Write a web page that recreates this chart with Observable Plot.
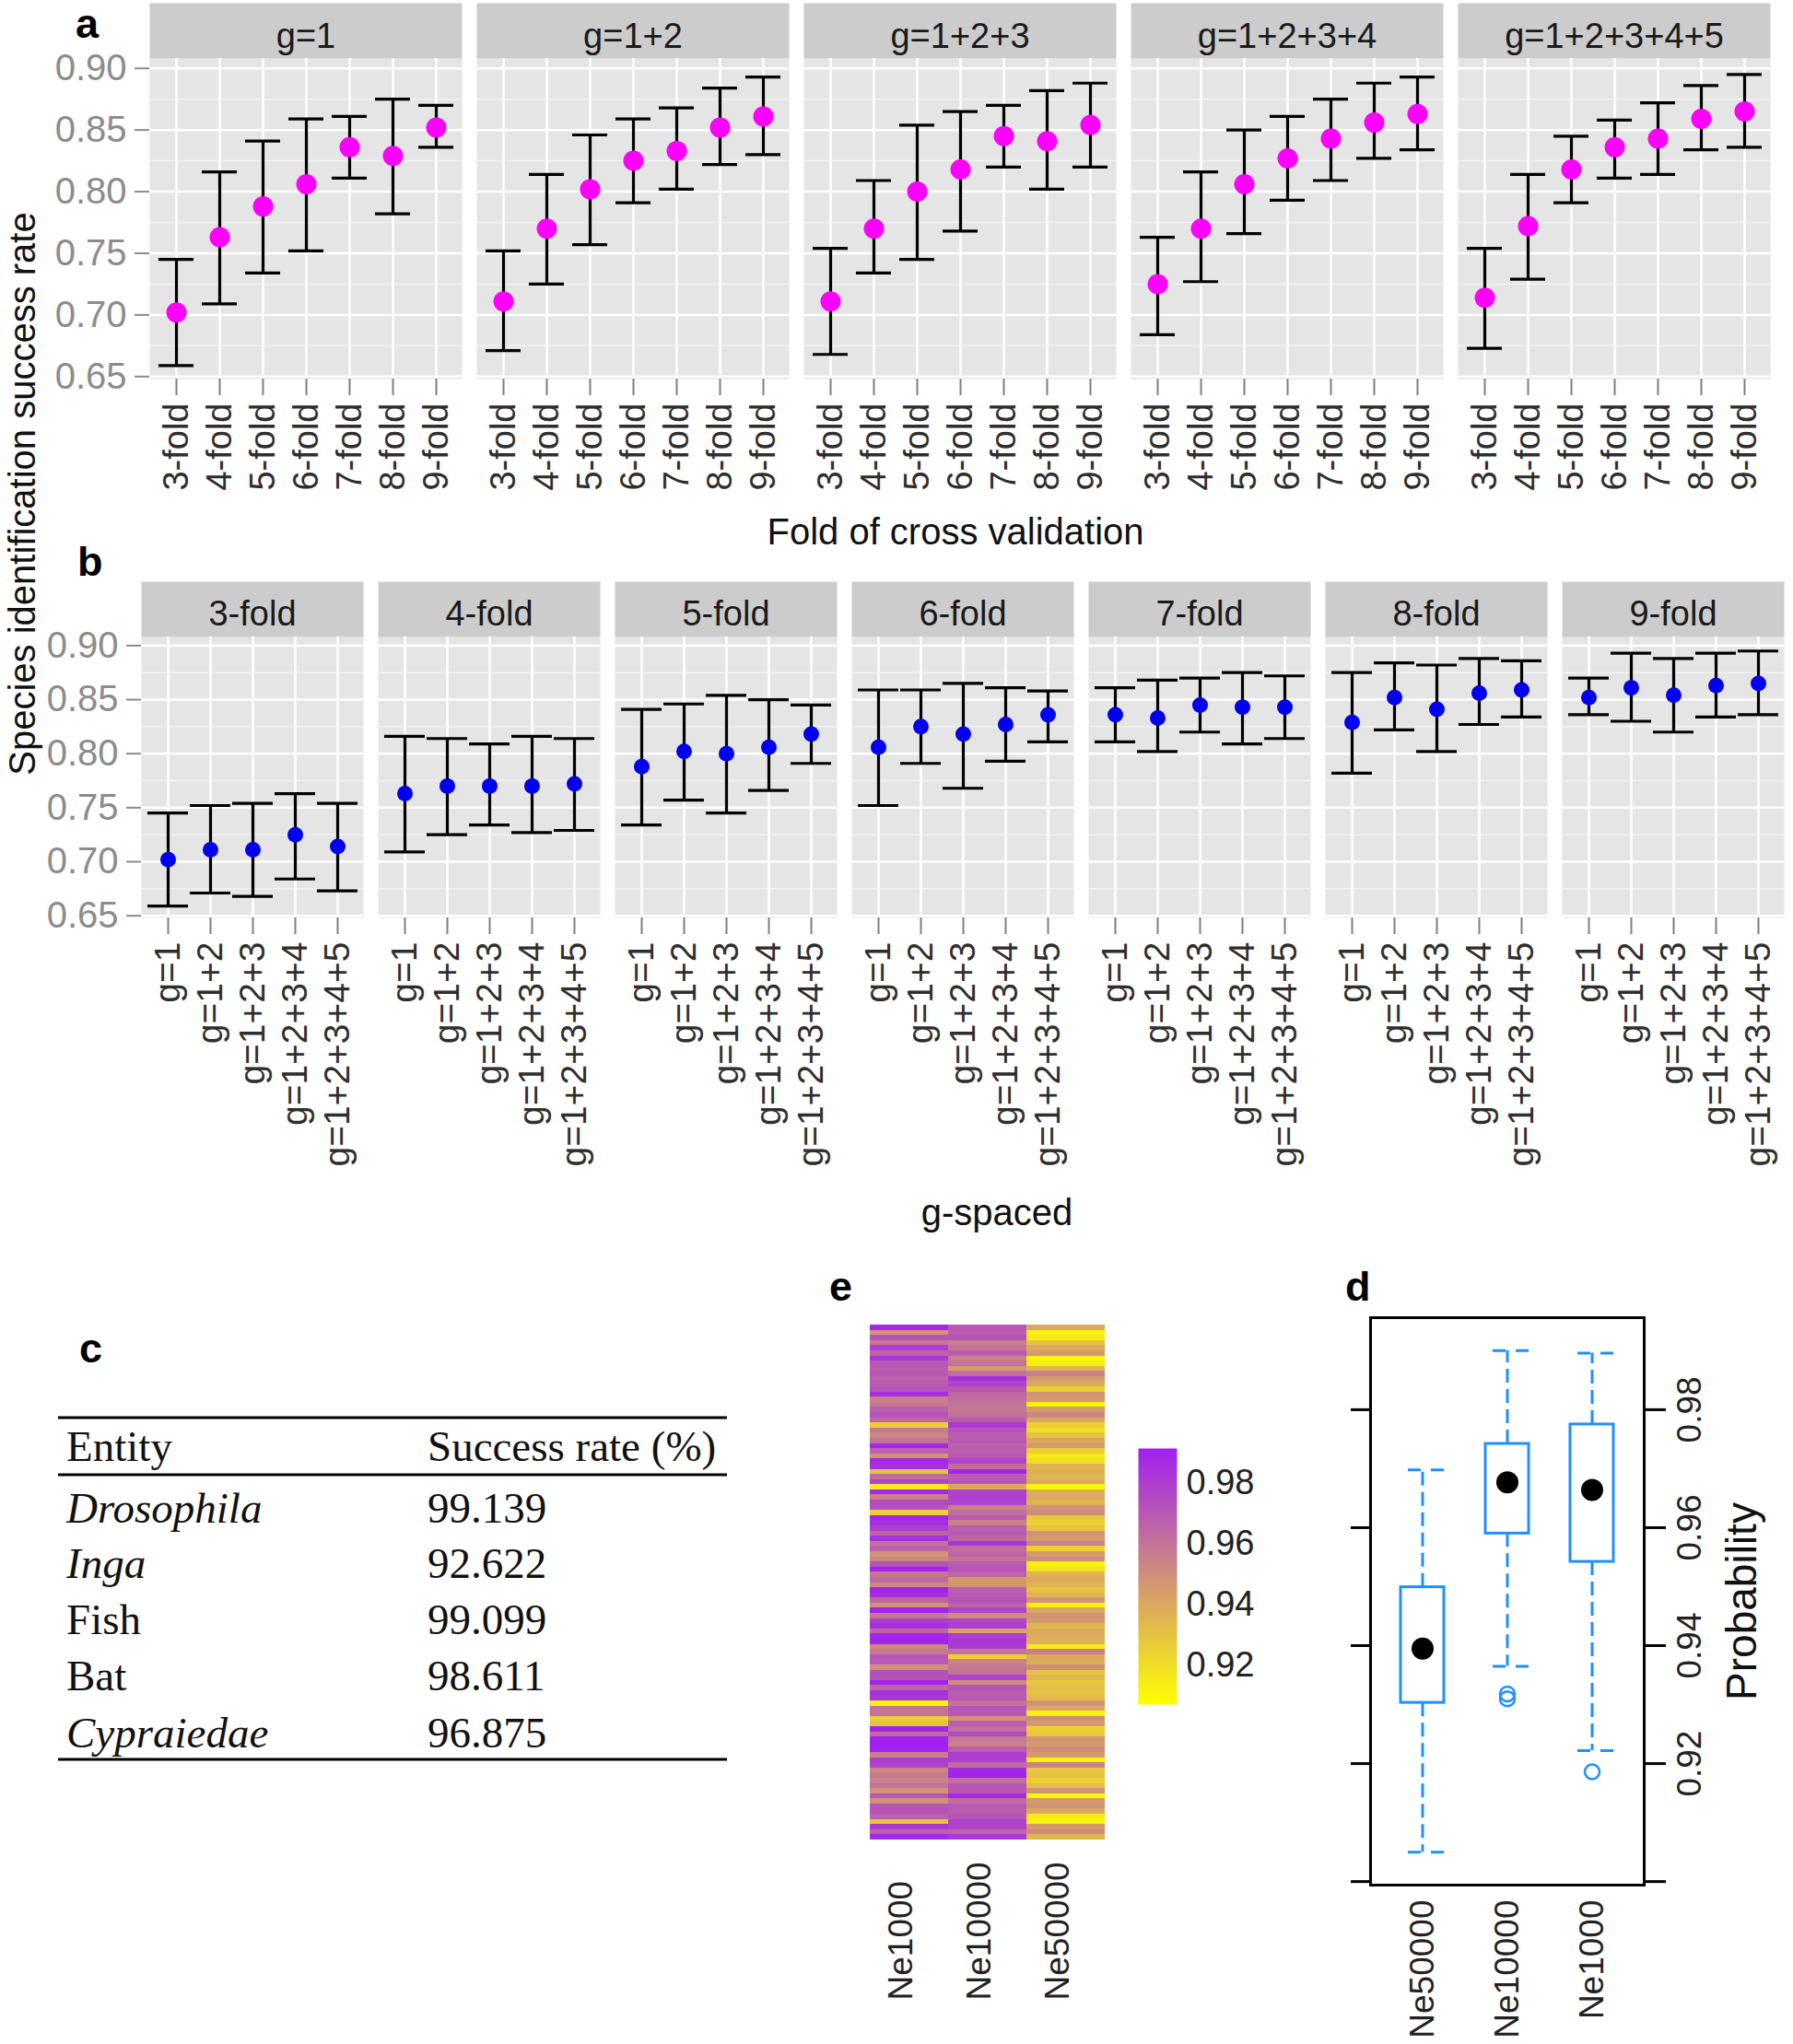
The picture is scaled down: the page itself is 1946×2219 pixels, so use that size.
<!DOCTYPE html>
<html><head><meta charset="utf-8">
<script src="https://cdn.jsdelivr.net/npm/d3@7"></script>
<script src="https://cdn.jsdelivr.net/npm/@observablehq/plot@0.6"></script>
<style>
html,body{margin:0;padding:0;background:#fff;}
#root{position:relative;width:1946px;height:2219px;overflow:hidden;background:#fff;}
</style></head><body><div id="root"></div>
<script>
// ---------- DATA ----------
const folds = ["3-fold","4-fold","5-fold","6-fold","7-fold","8-fold","9-fold"];
const gSpaced = ["g=1","g=1+2","g=1+2+3","g=1+2+3+4","g=1+2+3+4+5"];
// rows: g-spaced, columns: folds
const meanRate = [
  [0.702,0.763,0.788,0.806,0.836,0.829,0.852],
  [0.711,0.770,0.802,0.825,0.833,0.852,0.861],
  [0.711,0.770,0.800,0.818,0.845,0.841,0.854],
  [0.725,0.770,0.806,0.827,0.843,0.856,0.863],
  [0.714,0.772,0.818,0.836,0.843,0.859,0.865]
];
const lowerRate = [
  [0.659,0.709,0.734,0.752,0.811,0.782,0.836],
  [0.671,0.725,0.757,0.791,0.802,0.822,0.830],
  [0.668,0.734,0.745,0.768,0.820,0.802,0.820],
  [0.684,0.727,0.766,0.793,0.809,0.827,0.834],
  [0.673,0.729,0.791,0.811,0.814,0.834,0.836]
];
const upperRate = [
  [0.745,0.816,0.841,0.859,0.861,0.875,0.870],
  [0.752,0.814,0.846,0.859,0.868,0.884,0.893],
  [0.754,0.809,0.854,0.865,0.870,0.882,0.888],
  [0.763,0.816,0.850,0.861,0.875,0.888,0.893],
  [0.754,0.814,0.845,0.858,0.872,0.886,0.895]
];
const yTicks = [0.65,0.70,0.75,0.80,0.85,0.90];
const yMinor = [0.675,0.725,0.775,0.825,0.875];

const entityNames = ["Drosophila","Inga","Fish","Bat","Cypraiedae"];
const entityItalic = [true,true,false,false,true];
const successRates = ["99.139","92.622","99.099","98.611","96.875"];

const neCols = ["Ne1000","Ne10000","Ne50000"];
const heatNe1000 = [0.988,0.948,0.972,0.958,0.980,0.965,0.982,0.970,0.968,0.970,0.967,0.969,0.971,0.985,0.955,0.958,0.967,0.972,0.965,0.925,0.958,0.952,0.960,0.988,0.967,
0.948,0.988,0.985,0.930,0.963,0.978,0.915,0.988,0.955,0.975,0.973,0.925,0.990,0.985,0.980,0.965,0.985,0.960,0.967,0.948,0.952,0.972,0.990,0.958,0.963,
0.952,0.990,0.985,0.965,0.948,0.990,0.958,0.980,0.985,0.965,0.988,0.990,0.952,0.958,0.972,0.970,0.948,0.973,0.972,0.990,0.965,0.985,0.982,0.912,0.960,
0.960,0.925,0.930,0.990,0.963,0.990,0.992,0.990,0.955,0.980,0.978,0.952,0.958,0.955,0.960,0.948,0.970,0.948,0.970,0.972,0.967,0.930,0.982,0.967,0.988];
const heatNe10000 = [0.970,0.968,0.972,0.955,0.960,0.968,0.955,0.960,0.945,0.962,0.985,0.978,0.970,0.965,0.962,0.960,0.958,0.962,0.968,0.982,0.972,0.968,0.970,0.966,0.968,
0.970,0.978,0.962,0.988,0.968,0.970,0.940,0.978,0.980,0.978,0.955,0.962,0.968,0.955,0.968,0.970,0.965,0.982,0.962,0.965,0.960,0.968,0.972,0.965,0.945,
0.948,0.968,0.970,0.972,0.966,0.978,0.950,0.978,0.980,0.942,0.980,0.982,0.980,0.960,0.925,0.955,0.958,0.960,0.978,0.950,0.972,0.968,0.970,0.960,0.972,
0.970,0.948,0.968,0.962,0.975,0.958,0.955,0.968,0.980,0.980,0.962,0.988,0.990,0.962,0.970,0.970,0.988,0.962,0.970,0.968,0.972,0.978,0.978,0.965,0.982];
const heatNe50000 = [0.940,0.912,0.915,0.930,0.940,0.945,0.910,0.915,0.935,0.955,0.945,0.940,0.925,0.948,0.945,0.912,0.945,0.952,0.940,0.925,0.920,0.930,0.940,0.945,0.925,
0.915,0.920,0.935,0.938,0.935,0.940,0.910,0.938,0.940,0.935,0.948,0.950,0.928,0.925,0.930,0.948,0.945,0.955,0.925,0.945,0.950,0.912,0.918,0.935,0.940,
0.935,0.930,0.935,0.948,0.912,0.940,0.948,0.945,0.935,0.940,0.938,0.936,0.915,0.955,0.940,0.938,0.950,0.930,0.935,0.928,0.932,0.930,0.933,0.948,0.940,
0.912,0.950,0.945,0.925,0.928,0.948,0.945,0.950,0.945,0.912,0.955,0.928,0.930,0.925,0.932,0.948,0.910,0.945,0.948,0.940,0.915,0.912,0.945,0.950,0.935];
const colorDomain = [0.907, 0.9912];
const colorRange = ["#FFFF00", "#A020F0"];
const cbarTicks = [0.92,0.94,0.96,0.98];

const boxNames = ["Ne50000","Ne10000","Ne1000"];
const boxLowerWhisker = [0.9050,0.9365,0.9222];
const boxQ1 = [0.9303,0.9590,0.9542];
const boxCenter = [0.9395,0.9677,0.9664];
const boxQ3 = [0.9499,0.9742,0.9775];
const boxUpperWhisker = [0.9698,0.9900,0.9896];
const outlierGroup = ["Ne10000","Ne10000","Ne1000"];
const outlierValue = [0.9310,0.9318,0.9186];
const dTicks = [0.90,0.92,0.94,0.96,0.98];
const dTickLabels = [0.92,0.94,0.96,0.98];

// ---------- LAYOUT ----------
const FONT = "'Liberation Sans', Arial, Helvetica, sans-serif";
const SERIF = "'Liberation Serif', 'Times New Roman', serif";
const root = document.getElementById("root");
function place(el, left, top) {
  el.style.position = "absolute"; el.style.left = left + "px"; el.style.top = top + "px";
  el.style.maxWidth = "none";
  root.appendChild(el); return el;
}
const baseStyle = {fontFamily: FONT, background: "transparent", overflow: "visible"};

const rows = [];
gSpaced.forEach((g, i) => folds.forEach((f, j) => rows.push({g, fold: f, mean: meanRate[i][j], lo: lowerRate[i][j], hi: upperRate[i][j]})));
const yDomain = [0.648, 0.908];

function facetChart(o) {
  const innerH = o.height - o.mt - o.mb;
  return Plot.plot({
    width: 1946, height: o.height,
    marginLeft: o.ml, marginRight: o.mr, marginTop: o.mt, marginBottom: o.mb,
    style: baseStyle,
    fx: {domain: o.fxDomain, paddingInner: o.fxPad, paddingOuter: 0, axis: null, label: null},
    x: {type: "band", domain: o.xDomain, paddingInner: o.xIn, paddingOuter: o.xOut, label: null},
    y: {domain: yDomain, label: null},
    marks: [
      Plot.frame({fill: "#E5E5E5"}),
      Plot.frame({fill: "#CCCCCC", insetTop: -o.strip, insetBottom: innerH}),
      Plot.ruleY(yMinor, {stroke: "#F2F2F2", strokeWidth: 1.5}),
      Plot.ruleY(yTicks, {stroke: "#FFFFFF", strokeWidth: 2.5}),
      Plot.ruleX(o.xDomain, {x: d => d, stroke: "#FFFFFF", strokeWidth: 2.5}),
      Plot.axisY(yTicks, {tickFormat: d3.format(".2f"), tickSize: 16, tickPadding: 9, fontSize: 40, fill: "#8C8C8C", stroke: "#8C8C8C", strokeWidth: 2, label: null}),
      Plot.axisX({tickRotate: -90, tickSize: 18, tickPadding: 8, fontSize: o.xFont, fill: "#2E2E2E", stroke: "#7F7F7F", strokeWidth: 2, label: null}),
      Plot.ruleX(rows, {fx: o.fxKey, x: o.xKey, y1: "lo", y2: "hi", stroke: "#000", strokeWidth: 3.2}),
      Plot.tickY(rows, {fx: o.fxKey, x: o.xKey, y: "hi", stroke: "#000", strokeWidth: 3.2}),
      Plot.tickY(rows, {fx: o.fxKey, x: o.xKey, y: "lo", stroke: "#000", strokeWidth: 3.2}),
      Plot.dot(rows, {fx: o.fxKey, x: o.xKey, y: "mean", r: o.r, fill: o.color, stroke: "none"}),
      Plot.text(o.fxDomain, {fx: d => d, text: d => d, frameAnchor: "top", lineAnchor: "middle", dy: o.stripDy, fontSize: 38, fill: "#1A1A1A"})
    ]
  });
}

// Panel a
place(facetChart({
  height: 600, ml: 161, mr: 24, mt: 63, mb: 189, strip: 60, stripDy: -24,
  fxDomain: gSpaced, fxKey: "g", fxPad: 0.045,
  xDomain: folds, xKey: "fold", xIn: 0.2, xOut: 0.2, xFont: 38,
  r: 11, color: "#FF00FF"
}), 0, 0);

// Panel b
place(facetChart({
  height: 760, ml: 152, mr: 9, mt: 91, mb: 364, strip: 60, stripDy: -25,
  fxDomain: folds, fxKey: "fold", fxPad: 0.062,
  xDomain: gSpaced, xKey: "g", xIn: 0.05, xOut: 0.125, xFont: 39,
  r: 8.5, color: "#0000F0"
}), 0, 600);

// Panel e heatmap
const heatCols = [heatNe1000, heatNe10000, heatNe50000];
const cells = neCols.flatMap((ne, k) => heatCols[k].map((v, i) => ({ne, row: i, v})));
const rowIds = d3.range(heatNe1000.length);
const heat = Plot.plot({
  width: 360, height: 839, marginLeft: 43, marginRight: 60, marginTop: 58, marginBottom: 222,
  style: baseStyle,
  x: {type: "band", domain: neCols, padding: 0, axis: null},
  y: {type: "band", domain: rowIds, padding: 0, axis: null},
  color: {type: "linear", domain: colorDomain, range: colorRange, interpolate: "rgb", clamp: true},
  marks: [
    Plot.cell(cells, {x: "ne", y: "row", fill: "v", inset: 0, shapeRendering: "crispEdges"}),
    Plot.text(neCols, {x: d => d, text: d => d, frameAnchor: "bottom", rotate: -90, textAnchor: "start", dy: 174, dx: 3, fontSize: 37, fill: "#222"})
  ]
});
place(heat, 900, 1380);

// colour bar
const cbar = Plot.plot({
  width: 140, height: 340, marginLeft: 15, marginRight: 83, marginTop: 32, marginBottom: 30,
  style: baseStyle,
  y: {domain: colorDomain, label: null},
  marks: [
    Plot.frame({fill: "url(#cbGrad)"}),
    Plot.axisY(cbarTicks, {anchor: "right", tickSize: 0, tickPadding: 10, fontSize: 38, fill: "#222", tickFormat: d3.format(".2f"), label: null})
  ]
});
{
  const cs = heat.scale("color");
  const g = d3.select(cbar).insert("defs", ":first-child").append("linearGradient")
    .attr("id", "cbGrad").attr("x1", 0).attr("y1", 1).attr("x2", 0).attr("y2", 0);
  g.append("stop").attr("offset", 0).attr("stop-color", cs.apply(colorDomain[0]));
  g.append("stop").attr("offset", 1).attr("stop-color", cs.apply(colorDomain[1]));
}
place(cbar, 1220, 1540);

// Panel d boxplot
const BLUE = "#1E90FF";
const boxes = boxNames.map((name, i) => ({name, lw: boxLowerWhisker[i], q1: boxQ1[i], med: boxCenter[i], q3: boxQ3[i], uw: boxUpperWhisker[i]}));
const outs = outlierGroup.map((name, i) => ({name, v: outlierValue[i]}));
const dPlot = Plot.plot({
  width: 506, height: 839, marginLeft: 47, marginRight: 162, marginTop: 50, marginBottom: 173,
  style: baseStyle,
  x: {type: "band", domain: boxNames, paddingInner: 0.492, paddingOuter: 0.351, label: null},
  y: {domain: [0.8994, 0.9956], label: null},
  marks: [
    Plot.ruleX(boxes, {x: "name", y1: "q3", y2: "uw", stroke: BLUE, strokeWidth: 3, strokeDasharray: "15,7"}),
    Plot.ruleX(boxes, {x: "name", y1: "q1", y2: "lw", stroke: BLUE, strokeWidth: 3, strokeDasharray: "15,7"}),
    Plot.tickY(boxes, {x: "name", y: "uw", stroke: BLUE, strokeWidth: 3, strokeDasharray: "14,11", insetLeft: 8, insetRight: -1}),
    Plot.tickY(boxes, {x: "name", y: "lw", stroke: BLUE, strokeWidth: 3, strokeDasharray: "14,11", insetLeft: 8, insetRight: -1}),
    Plot.barY(boxes, {x: "name", y1: "q1", y2: "q3", fill: "white", stroke: BLUE, strokeWidth: 3}),
    Plot.dot(boxes, {x: "name", y: "med", r: 12, fill: "black"}),
    Plot.dot(outs, {x: "name", y: "v", r: 8, stroke: BLUE, strokeWidth: 2.5, fill: "none"}),
    Plot.frame({stroke: "black", strokeWidth: 3}),
    Plot.axisY(dTicks, {anchor: "left", tickSize: 21, tickFormat: () => "", stroke: "black", strokeWidth: 3, label: null}),
    Plot.axisY(dTicks, {anchor: "right", tickSize: 23, tickFormat: () => "", stroke: "black", strokeWidth: 3, label: null}),
    Plot.text(dTickLabels, {y: d => d, text: d => d3.format(".2f")(d), frameAnchor: "right", textAnchor: "middle", lineAnchor: "middle", dx: 50, rotate: -90, fontSize: 37, fill: "#222"}),
    Plot.text(["Probability"], {text: d => d, frameAnchor: "right", textAnchor: "middle", lineAnchor: "middle", dx: 107, rotate: -90, fontSize: 46, fill: "#111"}),
    Plot.axisX({tickRotate: -90, tickSize: 0, tickPadding: 16, fontSize: 37, fill: "#222", label: null})
  ]
});
place(dPlot, 1440, 1380);

// ---------- OVERLAY: panel letters, titles, table c ----------
const ov = d3.create("svg").attr("width", 1946).attr("height", 2219)
  .style("overflow", "visible").style("pointer-events", "none");
const letters = [["a", 82, 41], ["b", 84, 625], ["c", 86, 1479], ["e", 900, 1412], ["d", 1460, 1412]];
ov.selectAll("text.lab").data(letters).join("text").attr("class", "lab")
  .attr("x", d => d[1]).attr("y", d => d[2]).text(d => d[0])
  .attr("font-family", FONT).attr("font-weight", "bold").attr("font-size", 45).attr("fill", "#000");
ov.append("text").attr("transform", "translate(38,536) rotate(-90)").attr("text-anchor", "middle")
  .attr("font-family", FONT).attr("font-size", 40).attr("fill", "#111").text("Species identification success rate");
ov.append("text").attr("x", 1037).attr("y", 591).attr("text-anchor", "middle")
  .attr("font-family", FONT).attr("font-size", 40).attr("fill", "#111").text("Fold of cross validation");
ov.append("text").attr("x", 1082).attr("y", 1330).attr("text-anchor", "middle")
  .attr("font-family", FONT).attr("font-size", 40).attr("fill", "#111").text("g-spaced");
// table
[1539, 1601, 1910].forEach(y => ov.append("line").attr("x1", 63).attr("x2", 789).attr("y1", y).attr("y2", y)
  .attr("stroke", "#000").attr("stroke-width", 3));
const tHead = ov.append("g").attr("font-family", SERIF).attr("font-size", 47).attr("fill", "#111");
tHead.append("text").attr("x", 72).attr("y", 1586).text("Entity");
tHead.append("text").attr("x", 464).attr("y", 1586).text("Success rate (%)");
const rowBase = [1653, 1713, 1774, 1835, 1897];
entityNames.forEach((name, i) => {
  tHead.append("text").attr("x", 72).attr("y", rowBase[i]).attr("font-style", entityItalic[i] ? "italic" : "normal").text(name);
  tHead.append("text").attr("x", 464).attr("y", rowBase[i]).text(successRates[i]);
});
place(ov.node(), 0, 0);
</script></body></html>
